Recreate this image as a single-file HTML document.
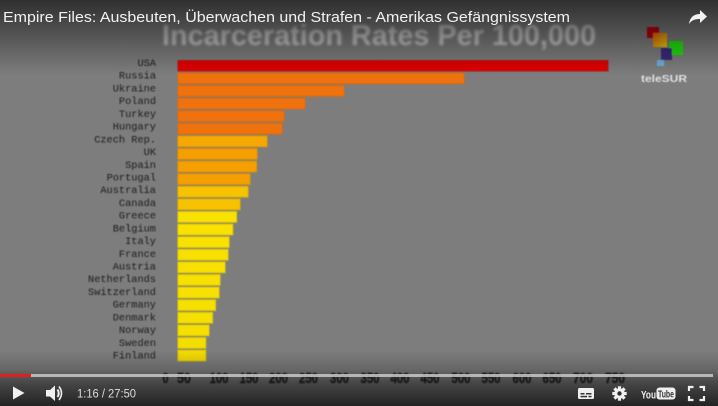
<!DOCTYPE html>
<html><head><meta charset="utf-8">
<style>
html,body{margin:0;padding:0;background:#7d7d7d;}
svg{display:block;}
</style></head>
<body>
<svg width="718" height="406" viewBox="0 0 718 406" xmlns="http://www.w3.org/2000/svg">
<defs>
<linearGradient id="topg" x1="0" y1="0" x2="0" y2="1">
<stop offset="0" stop-color="#000" stop-opacity="0.62"/>
<stop offset="1" stop-color="#000" stop-opacity="0"/>
</linearGradient>
<linearGradient id="botg" x1="0" y1="0" x2="0" y2="1">
<stop offset="0" stop-color="#000" stop-opacity="0"/>
<stop offset="0.35" stop-color="#000" stop-opacity="0.18"/>
<stop offset="0.6" stop-color="#000" stop-opacity="0.45"/>
<stop offset="1" stop-color="#000" stop-opacity="0.72"/>
</linearGradient>
<linearGradient id="og" x1="0" y1="0" x2="1" y2="1">
<stop offset="0" stop-color="#f06010"/>
<stop offset="1" stop-color="#e8d000"/>
</linearGradient>
<filter id="b1" x="-5%" y="-20%" width="110%" height="140%"><feGaussianBlur stdDeviation="0.5"/></filter>
<filter id="b2" x="-5%" y="-30%" width="110%" height="160%"><feGaussianBlur stdDeviation="1.3"/></filter>
<filter id="b3" x="-5%" y="-30%" width="110%" height="160%"><feGaussianBlur stdDeviation="0.6"/></filter>
</defs>

<rect x="0" y="0" width="718" height="406" fill="#7d7d7d"/>

<!-- chart title -->
<text x="162" y="45" font-family="Liberation Sans, sans-serif" font-weight="bold" font-size="29" fill="#c9c9c9" textLength="434" lengthAdjust="spacingAndGlyphs" filter="url(#b2)">Incarceration Rates Per 100,000</text>

<!-- bars -->
<g filter="url(#b1)" stroke-width="1">
<rect x="178" y="60.5" width="430" height="10.5" fill="#e20000" stroke="#b41414"/>
<rect x="178" y="73.1" width="286" height="10.5" fill="#f0720e" stroke="#e06a10"/>
<rect x="178" y="85.7" width="166" height="10.5" fill="#f0720e" stroke="#e06a10"/>
<rect x="178" y="98.3" width="127" height="10.5" fill="#f0720e" stroke="#e06a10"/>
<rect x="178" y="110.9" width="106" height="10.5" fill="#f0720e" stroke="#e06a10"/>
<rect x="178" y="123.5" width="104" height="10.5" fill="#f0720e" stroke="#e06a10"/>
<rect x="178" y="136.1" width="89" height="10.5" fill="#f7a800" stroke="#e89a00"/>
<rect x="178" y="148.7" width="79" height="10.5" fill="#f5a000" stroke="#e69400"/>
<rect x="178" y="161.3" width="78.5" height="10.5" fill="#f5a000" stroke="#e69400"/>
<rect x="178" y="173.9" width="72" height="10.5" fill="#f5a000" stroke="#e69400"/>
<rect x="178" y="186.5" width="70" height="10.5" fill="#f7c200" stroke="#e6b200"/>
<rect x="178" y="199.1" width="62" height="10.5" fill="#f7c200" stroke="#e6b200"/>
<rect x="178" y="211.7" width="58.5" height="10.5" fill="#fae200" stroke="#e8d000"/>
<rect x="178" y="224.3" width="54.7" height="10.5" fill="#fae200" stroke="#e8d000"/>
<rect x="178" y="236.9" width="51" height="10.5" fill="#fae200" stroke="#e8d000"/>
<rect x="178" y="249.5" width="50" height="10.5" fill="#f8e000" stroke="#e6cf00"/>
<rect x="178" y="262.1" width="47" height="10.5" fill="#f8e000" stroke="#e6cf00"/>
<rect x="178" y="274.7" width="42" height="10.5" fill="#f8e000" stroke="#e6cf00"/>
<rect x="178" y="287.3" width="41" height="10.5" fill="#f8e000" stroke="#e6cf00"/>
<rect x="178" y="299.9" width="37.5" height="10.5" fill="#f6e000" stroke="#e4cf00"/>
<rect x="178" y="312.5" width="34.5" height="10.5" fill="#f6e000" stroke="#e4cf00"/>
<rect x="178" y="325.1" width="31" height="10.5" fill="#f6e000" stroke="#e4cf00"/>
<rect x="178" y="337.7" width="27.7" height="10.5" fill="#f4de00" stroke="#e2cc00"/>
<rect x="178" y="350.3" width="27.7" height="10.5" fill="#f4de00" stroke="#e2cc00"/>
</g>

<!-- labels -->
<g font-family="Liberation Mono, monospace" font-size="10.3" fill="#1e1e1e" text-anchor="end" filter="url(#b3)">
<text x="156" y="66">USA</text>
<text x="156" y="78.7">Russia</text>
<text x="156" y="91.4">Ukraine</text>
<text x="156" y="104.2">Poland</text>
<text x="156" y="116.9">Turkey</text>
<text x="156" y="129.6">Hungary</text>
<text x="156" y="142.3">Czech Rep.</text>
<text x="156" y="155">UK</text>
<text x="156" y="167.8">Spain</text>
<text x="156" y="180.5">Portugal</text>
<text x="156" y="193.2">Australia</text>
<text x="156" y="205.9">Canada</text>
<text x="156" y="218.6">Greece</text>
<text x="156" y="231.4">Belgium</text>
<text x="156" y="244.1">Italy</text>
<text x="156" y="256.8">France</text>
<text x="156" y="269.5">Austria</text>
<text x="156" y="282.2">Netherlands</text>
<text x="156" y="295">Switzerland</text>
<text x="156" y="307.7">Germany</text>
<text x="156" y="320.4">Denmark</text>
<text x="156" y="333.1">Norway</text>
<text x="156" y="345.8">Sweden</text>
<text x="156" y="358.6">Finland</text>
</g>

<!-- teleSUR logo -->
<g filter="url(#b3)">
<rect x="647" y="27" width="12" height="11" fill="#c00010"/>
<rect x="653" y="33" width="14" height="14" fill="url(#og)"/>
<rect x="669" y="41" width="14" height="14" fill="#22e010"/>
<rect x="661" y="48" width="11" height="12" fill="#3a2a7a"/>
<rect x="657" y="60" width="7" height="6" fill="#6ab0e0"/>
<text x="664" y="82" font-family="Liberation Sans, sans-serif" font-weight="bold" font-size="10" fill="#e0e0e0" text-anchor="middle" textLength="46" lengthAdjust="spacingAndGlyphs">teleSUR</text>
</g>

<!-- YouTube chrome gradients -->
<rect x="0" y="0" width="718" height="75" fill="url(#topg)"/>
<rect x="0" y="350" width="718" height="56" fill="url(#botg)"/>

<!-- axis (drawn over the gradient to stay dark & crisp like reference) -->
<line x1="162" y1="366" x2="623" y2="366" stroke="#4a4a4a" stroke-width="1.5" filter="url(#b3)"/>
<g font-family="Liberation Sans, sans-serif" font-weight="bold" font-size="15" fill="#161616" stroke="#161616" stroke-width="0.4" text-anchor="middle" filter="url(#b3)">
<text x="165.5" y="383" textLength="6" lengthAdjust="spacingAndGlyphs">0</text>
<text x="184" y="383" textLength="14" lengthAdjust="spacingAndGlyphs">50</text>
<text x="219" y="383" textLength="19" lengthAdjust="spacingAndGlyphs">100</text>
<text x="249" y="383" textLength="19" lengthAdjust="spacingAndGlyphs">150</text>
<text x="278.5" y="383" textLength="19" lengthAdjust="spacingAndGlyphs">200</text>
<text x="308.5" y="383" textLength="19" lengthAdjust="spacingAndGlyphs">250</text>
<text x="339.5" y="383" textLength="19" lengthAdjust="spacingAndGlyphs">300</text>
<text x="370" y="383" textLength="19" lengthAdjust="spacingAndGlyphs">350</text>
<text x="400" y="383" textLength="19" lengthAdjust="spacingAndGlyphs">400</text>
<text x="430" y="383" textLength="19" lengthAdjust="spacingAndGlyphs">450</text>
<text x="461" y="383" textLength="19" lengthAdjust="spacingAndGlyphs">500</text>
<text x="491" y="383" textLength="19" lengthAdjust="spacingAndGlyphs">550</text>
<text x="522" y="383" textLength="19" lengthAdjust="spacingAndGlyphs">600</text>
<text x="552" y="383" textLength="19" lengthAdjust="spacingAndGlyphs">650</text>
<text x="583" y="383" textLength="20" lengthAdjust="spacingAndGlyphs">700</text>
<text x="615" y="383" textLength="20" lengthAdjust="spacingAndGlyphs">750</text>
</g>

<!-- video title -->
<text x="3" y="22" font-family="Liberation Sans, sans-serif" font-size="15" fill="#f2f2f2" textLength="567" lengthAdjust="spacingAndGlyphs">Empire Files: Ausbeuten, Überwachen und Strafen - Amerikas Gefängnissystem</text>

<!-- share arrow -->
<path d="M689 24 C690 17 694 14 700 14 L700 10 L707 16.5 L700 23 L700 19 C695 19 692 20 689 24 Z" fill="#f2f2f2"/>

<!-- progress bar -->
<rect x="0" y="374" width="713" height="3" fill="#c8c8c8" fill-opacity="0.85"/>
<rect x="0" y="374" width="31" height="3" fill="#e02020"/>

<!-- controls -->
<path d="M13 386.5 L13 399.5 L24.5 393 Z" fill="#f0f0f0"/>
<path d="M46 390 L50 390 L55 385.5 L55 401 L50 396.5 L46 396.5 Z" fill="#f0f0f0"/>
<path d="M57.5 389.5 Q60 393.2 57.5 397" stroke="#f0f0f0" stroke-width="2" fill="none"/>
<path d="M59 386.5 Q64 393.2 59 400" stroke="#f0f0f0" stroke-width="1.6" fill="none"/>
<text x="77" y="397.5" font-family="Liberation Sans, sans-serif" font-size="11.5" fill="#dedede" textLength="59" lengthAdjust="spacingAndGlyphs">1:16 / 27:50</text>

<!-- subtitles -->
<rect x="578" y="388" width="16" height="11" rx="1.5" fill="#f0f0f0"/>
<rect x="580.5" y="393" width="4" height="1.5" fill="#333"/>
<rect x="586" y="393" width="5.5" height="1.5" fill="#333"/>
<rect x="580.5" y="395.8" width="6.5" height="1.5" fill="#333"/>
<rect x="588.5" y="395.8" width="3" height="1.5" fill="#333"/>

<!-- gear -->
<g transform="translate(619.5 393.5)" fill="#f0f0f0">
<circle r="5.2"/>
<rect x="-1.6" y="-7.2" width="3.2" height="14.4"/>
<rect x="-1.6" y="-7.2" width="3.2" height="14.4" transform="rotate(45)"/>
<rect x="-1.6" y="-7.2" width="3.2" height="14.4" transform="rotate(90)"/>
<rect x="-1.6" y="-7.2" width="3.2" height="14.4" transform="rotate(135)"/>
<circle r="2.2" fill="#2e2e2e"/>
</g>

<!-- YouTube logo -->
<text x="641" y="398.5" font-family="Liberation Sans, sans-serif" font-weight="bold" font-size="11" fill="#f0f0f0" textLength="15" lengthAdjust="spacingAndGlyphs">You</text>
<rect x="656.5" y="387.5" width="19" height="12" rx="3" fill="#f0f0f0"/>
<text x="658" y="397.5" font-family="Liberation Sans, sans-serif" font-weight="bold" font-size="10" fill="#333" textLength="16" lengthAdjust="spacingAndGlyphs">Tube</text>

<!-- fullscreen -->
<g stroke="#f0f0f0" stroke-width="2.2" fill="none">
<path d="M689 391 L689 387 L693.5 387"/>
<path d="M699.5 387 L704 387 L704 391"/>
<path d="M689 396 L689 400 L693.5 400"/>
<path d="M699.5 400 L704 400 L704 396"/>
</g>
</svg>
</body></html>
